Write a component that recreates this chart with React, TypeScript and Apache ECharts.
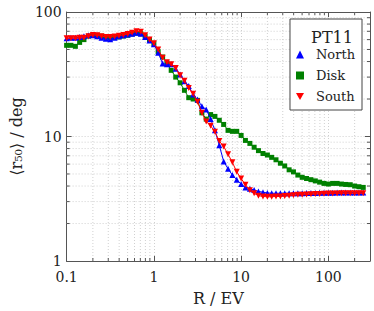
import React, { useEffect, useRef } from 'react';
import * as echarts from 'echarts';

const radius = [
  0.1, 0.112, 0.126, 0.141, 0.158, 0.178, 0.2, 0.224, 0.251, 0.282,
  0.316, 0.355, 0.398, 0.447, 0.501, 0.562, 0.631, 0.708, 0.794, 0.891,
  1, 1.12, 1.26, 1.41, 1.58, 1.78, 2, 2.24, 2.51, 2.82,
  3.16, 3.55, 3.98, 4.47, 5.01, 5.62, 6.31, 7.08, 7.94, 8.91,
  10, 11.2, 12.6, 14.1, 15.8, 17.8, 20, 22.4, 25.1, 28.2,
  31.6, 35.5, 39.8, 44.7, 50.1, 56.2, 63.1, 70.8, 79.4, 89.1,
  100, 112, 126, 141, 158, 178, 200, 224, 251,
];

const north = [
  61.5, 62, 62, 63, 64, 65, 65, 64, 62, 61,
  60.5, 62, 64, 65, 66, 67, 68, 67, 63, 59,
  55, 47, 38.5, 38, 38, 35, 31.5, 27.8, 25.5, 21.7,
  19.8, 17.5, 16.5, 13.8, 11.2, 8.5, 6.3, 5.5, 4.9, 4.5,
  4.15, 3.9, 3.8, 3.72, 3.62, 3.57, 3.52, 3.5, 3.5, 3.5,
  3.5, 3.5, 3.5, 3.5, 3.5, 3.52, 3.52, 3.52, 3.53, 3.53,
  3.54, 3.54, 3.55, 3.55, 3.55, 3.55, 3.55, 3.55, 3.55,
];

const disk = [
  54, 54, 53, 57, 60, 64, 65, 65, 64, 63,
  62, 62.5, 63, 64, 65, 66.5, 67.5, 67, 64, 60,
  56, 48, 43.5, 39, 34, 30, 27, 23.5, 20.5, 20,
  19.5, 15.5, 13.8, 15, 14.5, 13.5, 12.5, 11.2, 11, 11,
  10.2, 9.3, 8.8, 8.2, 7.7, 7.3, 7.1, 6.8, 6.5, 6.1,
  5.8, 5.4, 5.2, 4.9, 4.7, 4.6, 4.5, 4.4, 4.3, 4.2,
  4.15, 4.2, 4.2, 4.15, 4.12, 4.1, 4.0, 3.95, 3.9,
];

const south = [
  61.5, 61.5, 61.5, 62, 62, 64, 65.5, 65, 64, 63,
  63, 63.5, 64.5, 65.5, 66.5, 68, 70, 69.5, 65, 60,
  56, 50, 43, 39.5, 38, 35.5, 31, 28, 24.5, 22,
  19, 15.5, 13.2, 12.2, 10.9, 9.2, 8.3, 7.2, 6.2, 5.2,
  4.6, 4.1, 3.7, 3.5, 3.35, 3.3, 3.28, 3.28, 3.3, 3.3,
  3.32, 3.35, 3.37, 3.4, 3.4, 3.42, 3.43, 3.45, 3.46, 3.47,
  3.48, 3.48, 3.49, 3.5, 3.5, 3.5, 3.5, 3.5, 3.5,
];

const xTickLabels = ['0.1', '1', '10', '100'];
const yTickLabels = ['1', '10', '100'];
const xMinor = [
  0.2, 0.3, 0.4, 0.5, 0.6, 0.7, 0.8, 0.9,
  2, 3, 4, 5, 6, 7, 8, 9,
  20, 30, 40, 50, 60, 70, 80, 90,
  200,
];
const yMinor = [2, 3, 4, 5, 6, 7, 8, 9, 20, 30, 40, 50, 60, 70, 80, 90];

const FONT = 'DejaVu Serif';
const TEXT = '#222';
const AXIS = '#555';
const GRID = '#c4c4c4';

function decadeLabel(v: number, labels: string[]) {
  const l = Math.log10(v);
  if (Math.abs(l - Math.round(l)) > 1e-6) return '';
  const s = labels.find((t) => Math.abs(parseFloat(t) - v) / v < 1e-6);
  return s || '';
}

export default function App() {
  const ref = useRef<HTMLDivElement>(null);
  useEffect(() => {
    const chart = echarts.init(ref.current as HTMLDivElement, null, { renderer: 'svg' });
    const pairs = (ys: number[]) => radius.map((r, i) => [r, ys[i]]);
    const downTri = 'path://M0,0L10,0L5,9Z';
    const axisLine = { show: true, onZero: false, lineStyle: { color: AXIS, width: 1 } };
    const axisTick = { show: true, inside: true, length: 5, lineStyle: { color: AXIS, width: 1 } };
    const splitLine = { show: true, lineStyle: { color: GRID, width: 0.8, type: [1, 2] } };
    const option: any = {
      animation: false,
      backgroundColor: '#fff',
      grid: { left: 58, top: 12, right: 4, bottom: 50 },
      title: {
        text: 'PT11',
        left: 327,
        textAlign: 'center',
        top: 24,
        textStyle: { fontFamily: FONT, fontSize: 16, fontWeight: 'normal', color: TEXT },
      },
      legend: {
        orient: 'vertical',
        right: 12,
        top: 19,
        data: [
          { name: 'North', icon: 'triangle' },
          { name: 'Disk', icon: 'rect' },
          { name: 'South', icon: downTri },
        ],
        itemWidth: 8,
        itemHeight: 8,
        itemGap: 8,
        padding: [29, 7, 7, 6],
        borderColor: '#444',
        borderWidth: 1,
        backgroundColor: '#fff',
        textStyle: { fontFamily: FONT, fontSize: 13, color: TEXT, padding: [0, 0, 0, 7] },
      },
      xAxis: [
        {
          type: 'log',
          logBase: 10,
          min: 0.1,
          max: 300,
          position: 'bottom',
          name: 'R / EV',
          nameLocation: 'middle',
          nameGap: 29,
          nameTextStyle: { fontFamily: FONT, fontSize: 16, color: TEXT },
          axisLine,
          axisTick,
          axisLabel: {
            formatter: (v: number) => decadeLabel(v, xTickLabels),
            fontFamily: FONT,
            fontSize: 14,
            color: TEXT,
            margin: 9,
          },
          splitLine,
        },
        {
          type: 'log',
          logBase: 10,
          min: 0.1,
          max: 300,
          position: 'top',
          axisLine,
          axisTick,
          axisLabel: { show: false },
          splitLine: { show: false },
        },
      ],
      yAxis: [
        {
          type: 'log',
          logBase: 10,
          min: 1,
          max: 100,
          position: 'left',
          name: '⟨r₅₀⟩ / deg',
          nameLocation: 'middle',
          nameGap: 34,
          nameTextStyle: { fontFamily: FONT, fontSize: 16, color: TEXT },
          axisLine,
          axisTick,
          axisLabel: {
            formatter: (v: number) => decadeLabel(v, yTickLabels),
            fontFamily: FONT,
            fontSize: 14,
            color: TEXT,
            margin: 5,
          },
          splitLine,
        },
        {
          type: 'log',
          logBase: 10,
          min: 1,
          max: 100,
          position: 'right',
          axisLine,
          axisTick,
          axisLabel: { show: false },
          splitLine: { show: false },
        },
      ],
      series: [
        {
          type: 'custom',
          name: 'minor',
          coordinateSystem: 'cartesian2d',
          silent: true,
          z: 1,
          data: [[1, 10]],
          renderItem: (params: any, api: any) => {
            const cs = params.coordSys;
            const children: any[] = [];
            const gridStyle = { stroke: GRID, lineWidth: 0.8, lineDash: [1, 2], fill: null };
            const tickStyle = { stroke: AXIS, lineWidth: 1, fill: null };
            const bottom = cs.y + cs.height;
            const right = cs.x + cs.width;
            xMinor.forEach((v) => {
              const px = api.coord([v, 10])[0];
              children.push({ type: 'line', shape: { x1: px, y1: cs.y, x2: px, y2: bottom }, style: gridStyle });
              children.push({ type: 'line', shape: { x1: px, y1: bottom, x2: px, y2: bottom - 3 }, style: tickStyle });
              children.push({ type: 'line', shape: { x1: px, y1: cs.y, x2: px, y2: cs.y + 3 }, style: tickStyle });
            });
            yMinor.forEach((v) => {
              const py = api.coord([1, v])[1];
              children.push({ type: 'line', shape: { x1: cs.x, y1: py, x2: right, y2: py }, style: gridStyle });
              children.push({ type: 'line', shape: { x1: cs.x, y1: py, x2: cs.x + 3, y2: py }, style: tickStyle });
              children.push({ type: 'line', shape: { x1: right, y1: py, x2: right - 3, y2: py }, style: tickStyle });
            });
            return { type: 'group', children };
          },
        },
        {
          name: 'Disk',
          type: 'line',
          data: pairs(disk),
          symbol: 'rect',
          symbolSize: 5,
          itemStyle: { color: '#008000' },
          lineStyle: { color: '#008000', width: 1 },
          z: 3,
        },
        {
          name: 'North',
          type: 'line',
          data: pairs(north),
          symbol: 'triangle',
          symbolSize: 6,
          itemStyle: { color: '#0000ff' },
          lineStyle: { color: '#0000ff', width: 1 },
          z: 4,
        },
        {
          name: 'South',
          type: 'line',
          data: pairs(south),
          symbol: downTri,
          symbolSize: [6, 6],
          itemStyle: { color: '#ff0000' },
          lineStyle: { color: '#ff0000', width: 1 },
          z: 5,
        },
      ],
    };
    chart.setOption(option);
    return () => chart.dispose();
  }, []);
  return (
    <div
      ref={ref}
      style={{ position: 'fixed', left: 0, top: 0, width: 374, height: 311, background: '#fff' }}
    />
  );
}
